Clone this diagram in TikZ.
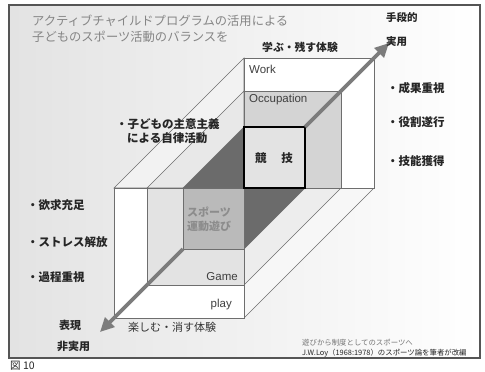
\documentclass[tikz,border=0pt]{standalone}
\usepackage{fontspec}
\setmainfont{Noto Sans CJK JP}
\newfontfamily\lat{Liberation Sans}
\usetikzlibrary{arrows.meta}
\definecolor{frm}{HTML}{555555}
\definecolor{edge}{HTML}{6E6E6E}
\definecolor{arr}{HTML}{7C7C7C}
\begin{document}
\begin{tikzpicture}[x=1pt,y=-1pt,
  face/.style={draw=edge, line width=0.6pt},
  band/.style={draw=edge, line width=0.6pt},
  darktri/.style={fill=black!58, draw=edge, line width=0.6pt},
  arrowline/.style={draw=arr, line width=3.6pt, -{Triangle[length=14pt,width=13pt]}},
  lbl/.style={inner sep=0pt, anchor=west, text=black!85, font=\fontsize{11.5}{13}\selectfont\bfseries},
  ttl/.style={inner sep=0pt, anchor=west, text=black!48, font=\fontsize{12.3}{14}\selectfont},
  latl/.style={inner sep=0pt, text=black!75, font=\lat\fontsize{11.5}{13}\selectfont},
  foot/.style={inner sep=0pt, anchor=west, font=\fontsize{7.4}{9}\selectfont}]
\useasboundingbox (0,0) rectangle (485,372);
\fill[white] (0,0) rectangle (485,372);
% frame with soft background
\shade[left color=black!11, right color=white] (9,5) rectangle (480,358);
\draw[frm, line width=1.2pt] (9,5) rectangle (480,358);
% upper-left bands
\filldraw[band, fill=black!5] (114,188) -- (244,58) -- (244,188) -- cycle;
\filldraw[band, fill=black!9] (147,188) -- (244,91) -- (244,188) -- cycle;
\filldraw[darktri] (183,188) -- (244,127) -- (244,188) -- cycle;
% lower-right bands
\filldraw[band, fill=black!3] (244,188) -- (374,188) -- (244,318) -- cycle;
\filldraw[band, fill=black!7] (244,188) -- (341,188) -- (244,285) -- cycle;
\filldraw[darktri] (244,188) -- (305,188) -- (244,249) -- cycle;
% front faces
\filldraw[face, fill=white] (114,188) rectangle (244,318);
\filldraw[face, fill=black!11] (147,188) rectangle (244,285);
\filldraw[face, fill=black!27] (183,188) rectangle (244,249);
% back faces
\filldraw[face, fill=white] (244,58) rectangle (374,188);
\filldraw[face, fill=black!17] (244,91) rectangle (341,188);
\filldraw[draw=black, line width=1.8pt, fill=black!11] (244,127) rectangle (305,188);
% diagonal arrow
\coordinate (a1) at (183,249);
\coordinate (a1tip) at (100,332);
\coordinate (a2) at (305,127);
\coordinate (a2tip) at (389,43);
\draw[arrowline] (a1) -- (a1tip);
\draw[arrowline] (a2) -- (a2tip);
% title
\node[ttl] (t1) at (32,21) {アクティブチャイルドプログラムの活用による};
\node[ttl] (t2) at (32,37) {子どものスポーツ活動のバランスを};
% top-right
\node[lbl, font=\fontsize{10.5}{12}\selectfont\bfseries] (shudan) at (386,18) {手段的};
\node[lbl, font=\fontsize{10.5}{12}\selectfont\bfseries] (jitsu) at (386,42) {実用};
\node[lbl, font=\fontsize{10.8}{12}\selectfont\bfseries] (manabu) at (262,47) {学ぶ・残す体験};
% box labels
\node[latl, anchor=west] (work) at (249,69) {Work};
\node[latl, anchor=west] (occ) at (249,100) {Occupation};
\node[lbl, anchor=center] (kyogi) at (274,158) {競\hspace{15pt}技};
\node[inner sep=0pt, anchor=west, text=black!45, font=\fontsize{11}{13}\selectfont\bfseries] (sp1) at (187,212) {スポーツ};
\node[inner sep=0pt, anchor=west, text=black!45, font=\fontsize{11}{13}\selectfont\bfseries] (sp2) at (187,226) {運動遊び};
\node[latl, anchor=east] (game) at (238,277) {Game};
\node[latl, anchor=east] (play) at (232,305) {play};
% left-middle
\node[lbl] (ko1) at (116,124) {・子どもの主意主義};
\node[lbl] (ko2) at (127,138) {による自律活動};
% right bullets
\node[lbl] (r1) at (387,88) {・成果重視};
\node[lbl] (r2) at (387,122) {・役割遂行};
\node[lbl] (r3) at (387,161) {・技能獲得};
% left bullets
\node[lbl] (l1) at (27,205) {・欲求充足};
\node[lbl] (l2) at (27,242) {・ストレス解放};
\node[lbl] (l3) at (27,277) {・過程重視};
% bottom-left
\node[lbl, font=\fontsize{11}{13}\selectfont\bfseries] (hyo) at (59,325) {表現};
\node[lbl, font=\fontsize{11}{13}\selectfont\bfseries] (hij) at (57,346) {非実用};
\node[inner sep=0pt, anchor=west, text=black!80, font=\fontsize{11}{13}\selectfont] (tano) at (128,327) {楽しむ・消す体験};
% footer
\node[foot, text=black!55] (f1) at (302,343) {遊びから制度としてのスポーツへ};
\node[foot, text=black!85] (f2) at (302,353) {J.W.Loy（1968:1978）のスポーツ論を筆者が改編};
% figure number
\node[inner sep=0pt, anchor=west, text=black!85, font=\fontsize{10.5}{12}\selectfont] (zu) at (10,365.5) {図 10};
\end{tikzpicture}
\end{document}
